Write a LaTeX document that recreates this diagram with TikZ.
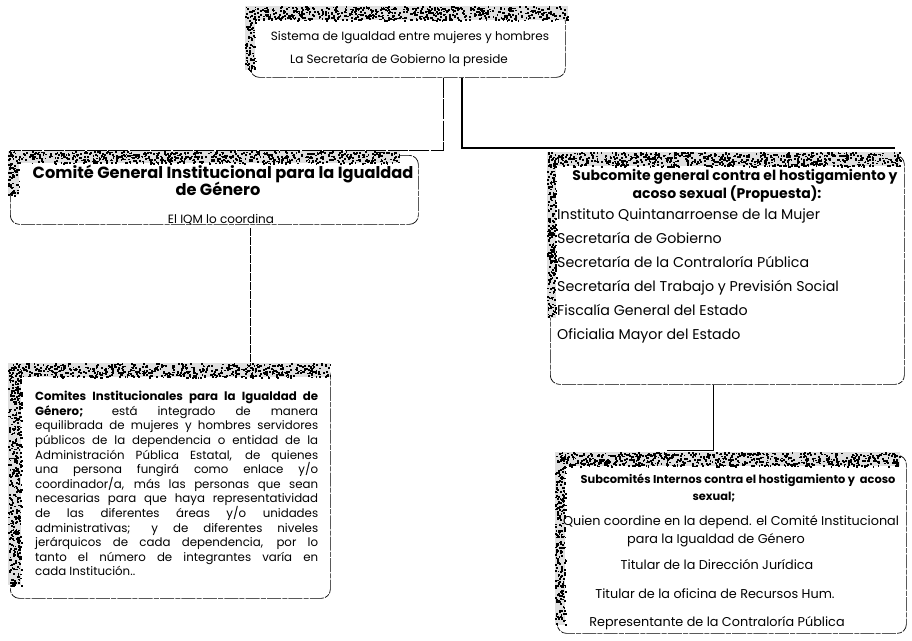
\documentclass[tikz,border=0pt]{standalone}
\usepackage{fontspec}
\setmainfont{Poppins}
\newcommand\mygrain[5]{%
  \fill[gray!25] (#1,#2) rectangle (#3,#4);
  \foreach \k in {1,...,#5}{%
    \pgfmathsetmacro\gx{#1+rnd*(#3-#1)}%
    \pgfmathsetmacro\gy{#2+rnd*(#4-#2)}%
    \fill (\gx,\gy) rectangle ++(1.8,1.8);}}
\tikzset{
  box/.style={draw=black, line width=0.7pt, rounded corners=9pt,
    dash pattern=on 14pt off 1.2pt on 5pt off 1.2pt, inner sep=0pt},
  conn/.style={draw=black, line width=0.8pt},
  tA/.style={inner sep=0pt, anchor=mid, font=\fontsize{12}{14}\selectfont},
  tL/.style={inner sep=0pt, anchor=mid west, font=\fontsize{14.2}{16}\selectfont},
  tR/.style={inner sep=0pt, anchor=mid, font=\fontsize{12.8}{14}\selectfont},
  hL/.style={inner sep=0pt, anchor=mid, font=\fontsize{16.2}{16}\bfseries\selectfont},
  hR/.style={inner sep=0pt, anchor=mid, font=\fontsize{14}{16}\bfseries\selectfont},
  hB/.style={inner sep=0pt, anchor=mid, font=\fontsize{11.4}{14}\bfseries\selectfont},
  para/.style={inner sep=0pt, anchor=north west, text width=283pt, align=justify,
    font=\fontsize{11.8}{14.6}\selectfont},
}
\begin{document}
\begin{tikzpicture}[x=1pt,y=-1pt]
\useasboundingbox (0,0) rectangle (912,640);
\pgfmathsetseed{7}
% boxes
\node[box, anchor=north west, minimum width=315pt, minimum height=65pt] (top) at (250,12) {};
\node[box, anchor=north west, minimum width=408pt, minimum height=69pt] (gen) at (10,155) {};
\node[box, anchor=north west, minimum width=354pt, minimum height=229pt] (sub) at (550,155) {};
\node[box, anchor=north west, minimum width=320pt, minimum height=232pt] (com) at (10,366) {};
\node[box, anchor=north west, minimum width=349pt, minimum height=178pt] (int) at (557,455) {};
% textured edges
\mygrain{248}{6}{568}{20}{650}
\mygrain{245}{6}{255}{70}{90}
\mygrain{8}{151}{400}{163}{740}
\mygrain{8}{151}{19}{195}{80}
\mygrain{548}{152}{900}{166}{780}
\mygrain{547}{152}{556}{318}{260}
\mygrain{8}{363}{330}{377}{680}
\mygrain{8}{363}{21}{585}{450}
\mygrain{555}{452}{900}{466}{780}
\mygrain{555}{452}{565}{625}{270}
% connectors
\coordinate (jL) at (443,150);
\coordinate (eL) at (10,150);
\coordinate (jR) at (462,148);
\coordinate (eR) at (895,148);
\draw[conn, dash pattern=on 20pt off 1.5pt] (top.south -| jL) -- (jL) -- (eL);
\draw[conn, line width=1.4pt] (top.south -| jR) -- (jR) -- (eR);
\coordinate (k1) at (250,228);
\draw[conn, dash pattern=on 8pt off 1pt] (k1) -- (com.north -| k1);
\coordinate (k2) at (713,450);
\coordinate (k3) at (667,450);
\draw[conn, line width=1pt] (sub.south -| k2) -- (k2) -- (k3);
% texts
\node[tA] (s1) at (410,38) {Sistema de Igualdad entre mujeres y hombres};
\node[tA] (s2) at (399,61) {La Secretaría de Gobierno la preside};
\node[hL] (g1) at (223,175.5) {Comité General Institucional para la Igualdad};
\node[hL] (g2) at (218,193) {de Género};
\node[tA] (g3) at (221,221) {El IQM lo coordina};
\node[hR] (r1) at (735,178) {Subcomite general contra el hostigamiento y};
\node[hR] (r2) at (727,196) {acoso sexual (Propuesta):};
\node[tL] (r3) at (557,217) {Instituto Quintanarroense de la Mujer};
\node[tL] (r4) at (557,241) {Secretaría de Gobierno};
\node[tL] (r5) at (557,265) {Secretaría de la Contraloría Pública};
\node[tL] (r6) at (557,289) {Secretaría del Trabajo y Previsión Social};
\node[tL] (r7) at (557,313) {Fiscalía General del Estado};
\node[tL] (r8) at (557,337) {Oficialia Mayor del Estado};
\node[para] (p1) at (35,391) {\textbf{Comites Institucionales para la Igualdad de}\linebreak
\textbf{Género;} está integrado de manera\linebreak
equilibrada de mujeres y hombres servidores\linebreak
públicos de la dependencia o entidad de la\linebreak
Administración Pública Estatal, de quienes\linebreak
una persona fungirá como enlace y/o\linebreak
coordinador/a, más las personas que sean\linebreak
necesarias para que haya representatividad\linebreak
de las diferentes áreas y/o unidades\linebreak
administrativas; y de diferentes niveles\linebreak
jerárquicos de cada dependencia, por lo\linebreak
tanto el número de integrantes varía en\linebreak
cada Institución..};
\node[hB] (b1) at (738,481) {Subcomités Internos contra el hostigamiento y\ \ acoso};
\node[hB] (b2) at (714,498) {sexual;};
\node[tR] (b3) at (731,523) {Quien coordine en la depend. el Comité Institucional};
\node[tR] (b4) at (716,541) {para la Igualdad de Género};
\node[tR] (b5) at (717,567) {Titular de la Dirección Jurídica};
\node[tR] (b6) at (715,596) {Titular de la oficina de Recursos Hum.};
\node[tR] (b7) at (717,624) {Representante de la Contraloría Pública};
\end{tikzpicture}
\end{document}
